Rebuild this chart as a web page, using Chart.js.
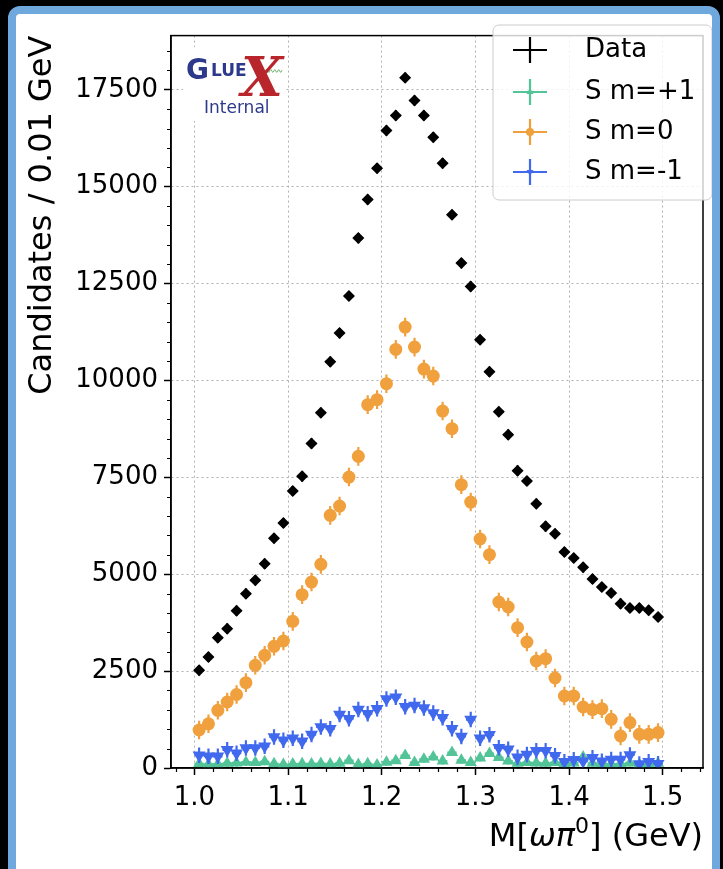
<!DOCTYPE html>
<html>
<head>
<meta charset="utf-8">
<script src="https://cdn.jsdelivr.net/npm/chart.js@4.4.1/dist/chart.umd.min.js"></script>
<style>
  html, body { margin: 0; padding: 0; background: #000; }
  #frame {
    position: absolute; left: 8px; top: 6px;
    width: 696px; height: 870px;
    border: 8px solid #6fa8dc; border-radius: 12px;
    background: #fff; overflow: hidden;
  }
  #chart { position: absolute; left: 0; top: 0; }
</style>
</head>
<body>
<div id="frame"><canvas id="chart" width="696" height="855"></canvas></div>
<script>
// bin centres, M(omega pi0) in GeV
const massBins = [
  1.005, 1.015, 1.025, 1.035, 1.045, 1.055, 1.065, 1.075, 1.085, 1.095,
  1.105, 1.115, 1.125, 1.135, 1.145, 1.155, 1.165, 1.175, 1.185, 1.195,
  1.205, 1.215, 1.225, 1.235, 1.245, 1.255, 1.265, 1.275, 1.285, 1.295,
  1.305, 1.315, 1.325, 1.335, 1.345, 1.355, 1.365, 1.375, 1.385, 1.395,
  1.405, 1.415, 1.425, 1.435, 1.445, 1.455, 1.465, 1.475, 1.485, 1.495
];

const dataCounts = [
  2520, 2864, 3364, 3596, 4060, 4499, 4843, 5273, 5930, 6321,
  7147, 7526, 8377, 9169, 10485, 11223, 12178, 13674, 14672, 15480,
  16453, 16840, 17812, 17226, 16840, 16280, 15609, 14277, 13029, 12428,
  11053, 10227, 9195, 8602, 7673, 7405, 6821, 6236, 6047, 5573,
  5418, 5178, 4876, 4670, 4515, 4241, 4128, 4128, 4069, 3896
];

const sPlusCounts = [
  110, 95, 100, 120, 130, 150, 140, 160, 110, 90,
  100, 110, 105, 115, 100, 120, 190, 90, 110, 80,
  150, 190, 320, 140, 224, 284, 181, 398, 198, 139,
  258, 371, 270, 181, 120, 139, 130, 120, 140, 110,
  130, 284, 120, 110, 100, 110, 130, 90, 100, 120
];

const sZeroCounts = [
  980, 1140, 1489, 1703, 1897, 2203, 2650, 2908, 3140, 3277,
  3785, 4473, 4799, 5255, 6520, 6760, 7508, 8042, 9376, 9505,
  9917, 10802, 11378, 10862, 10294, 10114, 9211, 8756, 7312, 6863,
  5910, 5506, 4283, 4154, 3622, 3251, 2761, 2822, 2322, 1858,
  1858, 1574, 1507, 1532, 1256, 826, 1171, 869, 869, 913
];

const sMinusCounts = [
  330, 305, 300, 470, 380, 516, 516, 560, 800, 715,
  770, 690, 862, 1058, 1016, 1380, 1274, 1510, 1403, 1530,
  1780, 1825, 1580, 1610, 1550, 1420, 1295, 1010, 815, 1249,
  770, 855, 520, 487, 280, 350, 448, 448, 314, 164,
  211, 176, 262, 172, 220, 220, 336, 100, 164, 112
];

const xTickValues = [1.0, 1.1, 1.2, 1.3, 1.4, 1.5];
const yTickValues = [0, 2500, 5000, 7500, 10000, 12500, 15000, 17500];

const seriesLabels = ['Data', 'S m=+1', 'S m=0', 'S m=-1'];
const seriesColors = ['#000000', '#52c497', '#f0a03c', '#4169ee'];
const seriesErrors = [130, 90, 240, 200];   // typical y error per series
const binHalfWidth = 0.005;

const FONT = '"DejaVu Sans", sans-serif';

function toPoints(values) {
  return massBins.map((m, i) => ({ x: m, y: values[i] }));
}

// error bars drawn just before each dataset's markers
const errorBars = {
  id: 'errorBars',
  beforeDatasetDraw(chart, args) {
    const ds = chart.data.datasets[args.index];
    const xs = chart.scales.x, ys = chart.scales.y;
    const ctx = chart.ctx, area = chart.chartArea;
    ctx.save();
    ctx.beginPath();
    ctx.rect(area.left, area.top, area.right - area.left, area.bottom - area.top);
    ctx.clip();
    ctx.strokeStyle = ds.borderColor;
    ctx.lineWidth = 2.2;
    ctx.beginPath();
    ds.data.forEach(p => {
      const px = xs.getPixelForValue(p.x), py = ys.getPixelForValue(p.y);
      ctx.moveTo(xs.getPixelForValue(p.x - ds.xErr), py);
      ctx.lineTo(xs.getPixelForValue(p.x + ds.xErr), py);
      ctx.moveTo(px, ys.getPixelForValue(p.y - ds.yErr));
      ctx.lineTo(px, ys.getPixelForValue(p.y + ds.yErr));
    });
    ctx.stroke();
    ctx.restore();
  }
};

// frame, minor ticks, logo, x title, legend
const decorations = {
  id: 'decorations',
  afterDatasetsDraw(chart) {
    const ctx = chart.ctx, area = chart.chartArea;
    const xs = chart.scales.x, ys = chart.scales.y;
    ctx.save();
    ctx.strokeStyle = '#000';
    ctx.lineWidth = 1.2;
    ctx.beginPath();
    for (let v = 500; v < ys.max; v += 500) {
      if (v % 2500 === 0) continue;
      const y = Math.round(ys.getPixelForValue(v)) + 0.5;
      ctx.moveTo(area.left, y); ctx.lineTo(area.left - 4, y);
    }
    for (let k = 49; k <= 77; k++) {
      if (k % 5 === 0) continue;
      const x = Math.round(xs.getPixelForValue(k / 50)) + 0.5;
      if (x < area.left || x > area.right) continue;
      ctx.moveTo(x, area.bottom); ctx.lineTo(x, area.bottom + 4);
    }
    ctx.stroke();
    ctx.lineWidth = 1.5;
    ctx.strokeRect(area.left, area.top, area.right - area.left, area.bottom - area.top);
    ctx.restore();
  },
  afterDraw(chart) {
    const ctx = chart.ctx, area = chart.chartArea;
    ctx.save();

    // GlueX logo
    ctx.fillStyle = '#fff';
    ctx.fillRect(167, 33, 102, 74);
    ctx.fillStyle = '#2d3a8c';
    ctx.textBaseline = 'alphabetic';
    ctx.textAlign = 'left';
    ctx.font = 'bold 28px ' + FONT;
    ctx.fillText('G', 170, 65);
    ctx.font = 'bold 17px ' + FONT;
    ctx.fillText('LUE', 195, 62);
    ctx.strokeStyle = '#7cb87c';
    ctx.lineWidth = 1;
    ctx.beginPath();
    for (let x = 244; x <= 266; x++) {
      const y = 57 + 1.5 * Math.sin((x - 244) * 1.6);
      if (x === 244) ctx.moveTo(x, y); else ctx.lineTo(x, y);
    }
    ctx.stroke();
    ctx.fillStyle = '#b8262b';
    ctx.textAlign = 'center';
    ctx.font = 'italic bold 54px "DejaVu Serif", serif';
    ctx.fillText('X', 246, 82);
    ctx.fillStyle = '#2d3a8c';
    ctx.textAlign = 'left';
    ctx.font = '17px ' + FONT;
    ctx.fillText('Internal', 188, 99);

    // x axis title, right aligned to the axes
    const parts = [
      { text: 'M[', font: '32px ' + FONT, dy: 0 },
      { text: 'ωπ', font: 'italic 32px ' + FONT, dy: 0 },
      { text: '0', font: '22px ' + FONT, dy: -13 },
      { text: '] (GeV)', font: '32px ' + FONT, dy: 0 }
    ];
    let total = 0;
    parts.forEach(p => { ctx.font = p.font; p.w = ctx.measureText(p.text).width; total += p.w; });
    let x = area.right - total;
    ctx.fillStyle = '#000';
    parts.forEach(p => { ctx.font = p.font; ctx.fillText(p.text, x, 832 + p.dy); x += p.w; });

    // legend
    const lx = 477, ly = 11, lw = 219, lh = 175;
    ctx.fillStyle = 'rgba(255,255,255,0.8)';
    ctx.strokeStyle = '#cccccc';
    ctx.lineWidth = 1;
    ctx.beginPath();
    ctx.roundRect(lx, ly, lw, lh, 6);
    ctx.fill();
    ctx.stroke();
    const rowY = [36, 78, 118, 158];
    chart.data.datasets.forEach((ds, i) => {
      const cx = 514, cy = rowY[i];
      ctx.strokeStyle = ds.borderColor;
      ctx.lineWidth = 2.2;
      ctx.beginPath();
      ctx.moveTo(cx - 17, cy); ctx.lineTo(cx + 17, cy);
      ctx.moveTo(cx, cy - 13); ctx.lineTo(cx, cy + 13);
      ctx.stroke();
      if (i > 0 && Chart.helpers && Chart.helpers.drawPoint) {
        ctx.fillStyle = ds.backgroundColor;
        Chart.helpers.drawPoint(ctx, {
          pointStyle: ds.pointStyle, radius: 4, rotation: ds.rotation || 0, borderWidth: 0
        }, cx, cy);
      }
      ctx.fillStyle = '#000';
      ctx.font = '26px ' + FONT;
      ctx.textBaseline = 'middle';
      ctx.textAlign = 'left';
      ctx.fillText(seriesLabels[i], 569, cy);
    });
    ctx.restore();
  }
};

const seriesValues = [dataCounts, sPlusCounts, sZeroCounts, sMinusCounts];
const pointStyles = ['rectRot', 'triangle', 'circle', 'triangle'];
const pointRadii = [6, 7, 6.5, 7.5];
const pointRotations = [0, 0, 0, 180];
const drawOrder = [3, 2, 1, 0];

const datasets = seriesLabels.map((label, i) => ({
  label: label,
  data: toPoints(seriesValues[i]),
  borderColor: seriesColors[i],
  backgroundColor: seriesColors[i],
  pointStyle: pointStyles[i],
  pointRadius: pointRadii[i],
  rotation: pointRotations[i],
  pointRotation: pointRotations[i],
  pointBorderWidth: 0,
  showLine: false,
  xErr: binHalfWidth,
  yErr: seriesErrors[i],
  order: drawOrder[i]
}));

const gridColor = '#b0b0b0';

new Chart(document.getElementById('chart'), {
  type: 'scatter',
  data: { datasets: datasets },
  plugins: [errorBars, decorations],
  options: {
    responsive: false,
    animation: false,
    devicePixelRatio: 1,
    layout: { padding: { top: 21, right: 9, left: 0, bottom: 0 } },
    plugins: { legend: { display: false }, tooltip: { enabled: false } },
    scales: {
      x: {
        type: 'linear',
        min: 0.975,
        max: 1.543,
        afterFit(scale) { scale.height = 101; },
        afterBuildTicks(scale) { scale.ticks = xTickValues.map(v => ({ value: v })); },
        ticks: {
          color: '#000',
          padding: 8,
          maxRotation: 0,
          autoSkip: false,
          font: { family: FONT, size: 26 },
          callback: v => v.toFixed(1)
        },
        grid: { color: gridColor, lineWidth: 1, tickLength: 7, tickWidth: 1.5, tickColor: '#000' },
        border: { display: true, color: '#000', width: 1.5, dash: [2, 3] },
        title: { display: false }
      },
      y: {
        type: 'linear',
        min: 0,
        max: 18900,
        afterFit(scale) { scale.width = 155; },
        afterBuildTicks(scale) { scale.ticks = yTickValues.map(v => ({ value: v })); },
        ticks: {
          color: '#000',
          padding: 6,
          autoSkip: false,
          font: { family: FONT, size: 26 },
          callback: v => String(v)
        },
        grid: { color: gridColor, lineWidth: 1, tickLength: 7, tickWidth: 1.5, tickColor: '#000' },
        border: { display: true, color: '#000', width: 1.5, dash: [2, 3] },
        title: {
          display: true,
          text: 'Candidates / 0.01 GeV',
          align: 'end',
          color: '#000',
          font: { family: FONT, size: 32 },
          padding: { top: 7, bottom: 0 }
        }
      }
    }
  }
});
</script>
</body>
</html>
